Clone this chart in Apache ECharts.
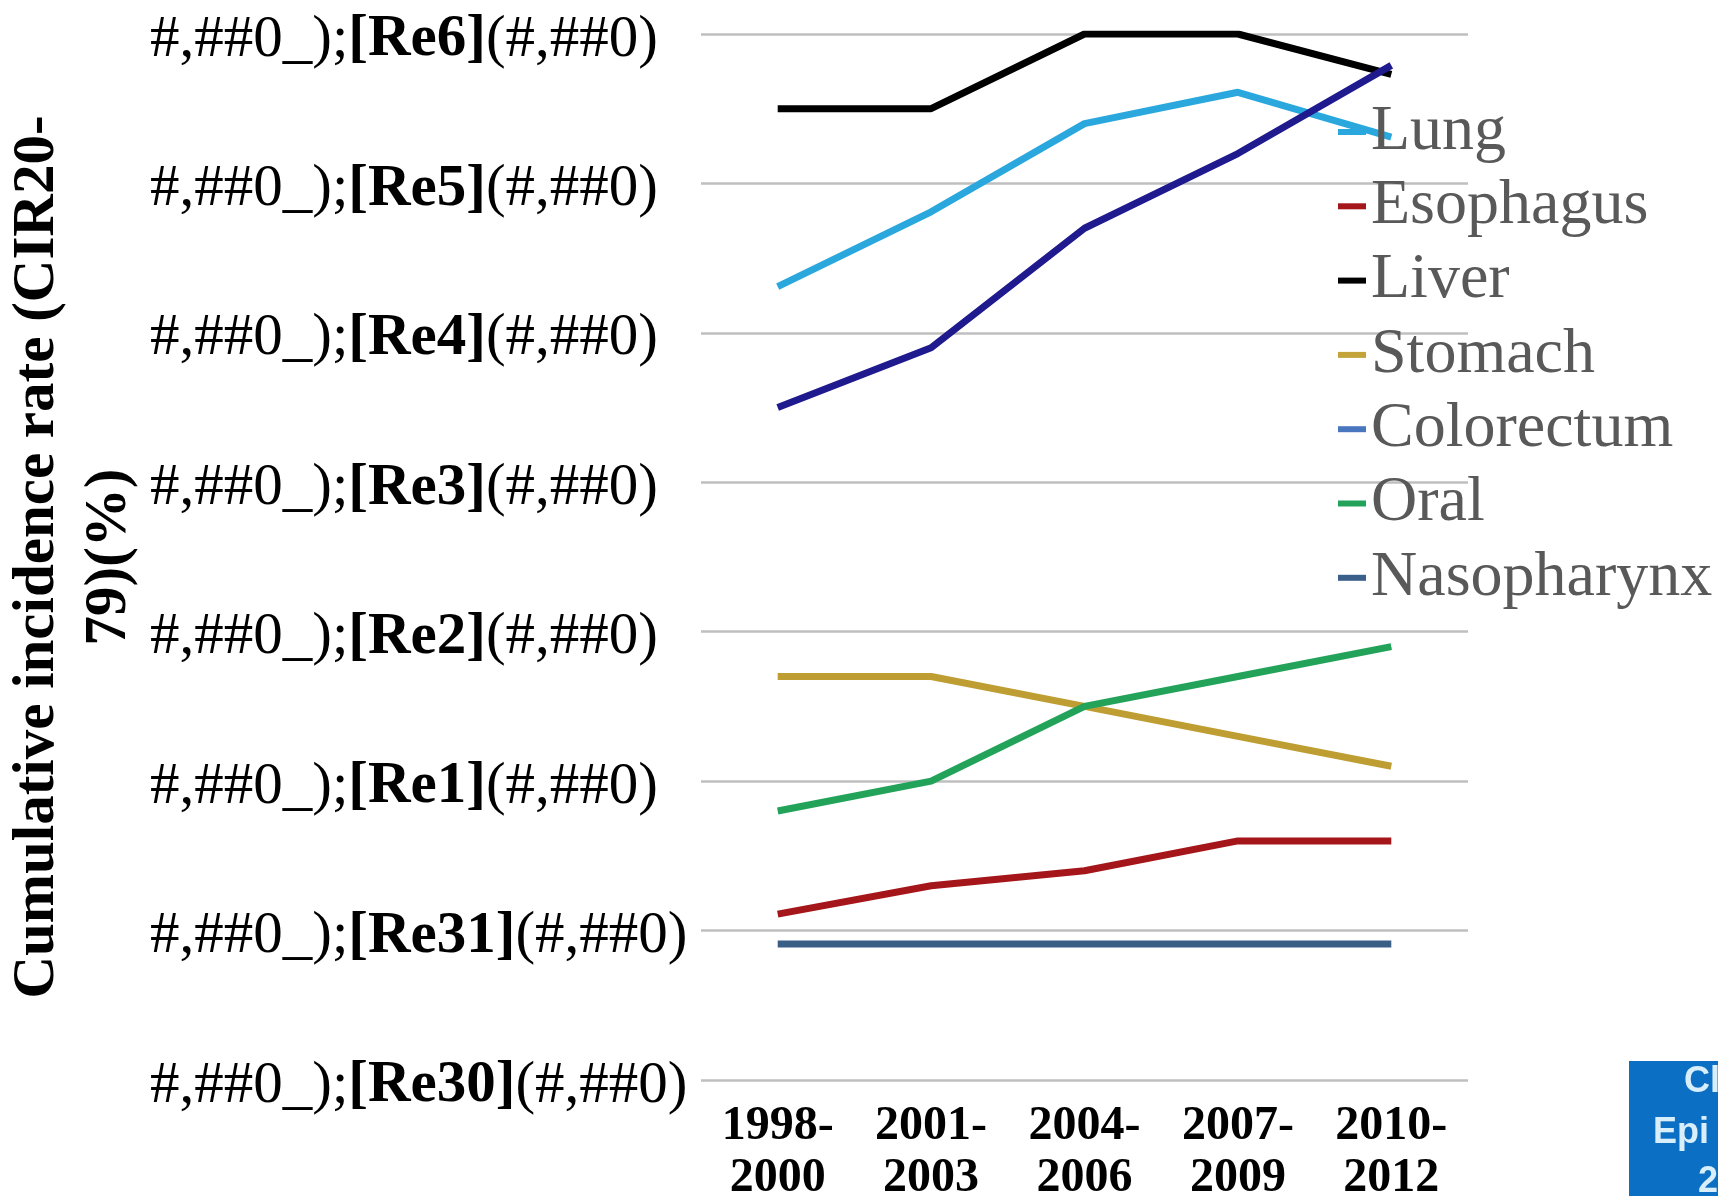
<!DOCTYPE html>
<html>
<head>
<meta charset="utf-8">
<script src="https://cdn.jsdelivr.net/npm/echarts@6/dist/echarts.min.js"></script>
<style>
html,body{margin:0;padding:0;background:#fff;}
#chart{width:1718px;height:1196px;}
</style>
</head>
<body>
<div id="chart"></div>
<script>
const categories = ['1998-\n2000', '2001-\n2003', '2004-\n2006', '2007-\n2009', '2010-\n2012'];
const tickNames = ['Re30', 'Re31', 'Re1', 'Re2', 'Re3', 'Re4', 'Re5', 'Re6'];
const lung = [5.31, 5.81, 6.40, 6.61, 6.31];
const esophagus = [1.11, 1.30, 1.40, 1.60, 1.60];
const liver = [6.50, 6.50, 7.00, 7.00, 6.73];
const stomach = [2.70, 2.70, 2.50, 2.30, 2.10];
const colorectum = [4.50, 4.90, 5.70, 6.20, 6.79];
const oral = [1.80, 2.00, 2.50, 2.70, 2.90];
const nasopharynx = [0.91, 0.91, 0.91, 0.91, 0.91];
const seriesNames = ['Lung', 'Esophagus', 'Liver', 'Stomach', 'Colorectum', 'Oral', 'Nasopharynx'];
const yAxisTitle = 'Cumulative incidence rate (CIR20-\n79)(%)';

const lineColors = ['#2AA8DE', '#A5161A', '#000000', '#BE9E32', '#1F1A8E', '#23A35A', '#3A5F86'];
const swatchColors = ['#2AA8DE', '#A5161A', '#000000', '#C4A43A', '#4A76C0', '#23A35A', '#3A5F8A'];
const dataSets = [lung, esophagus, liver, stomach, colorectum, oral, nasopharynx];

const serif = 'Liberation Serif, Times New Roman, serif';
const chart = echarts.init(document.getElementById('chart'));
chart.setOption({
  backgroundColor: '#ffffff',
  animation: false,
  grid: {left: 701, right: 250, top: 34, bottom: 116, containLabel: false, outerBoundsMode: 'none'},
  xAxis: {
    type: 'category',
    data: categories,
    boundaryGap: true,
    axisLine: {show: false},
    axisTick: {show: false},
    axisLabel: {
      fontFamily: serif, fontWeight: 'bold', fontSize: 48, color: '#000',
      lineHeight: 52, margin: 21, interval: 0
    }
  },
  yAxis: {
    type: 'value',
    min: 0, max: 7, interval: 1,
    axisLine: {show: false},
    axisTick: {show: false},
    splitLine: {lineStyle: {color: '#BFBFBF', width: 2.5}},
    axisLabel: {
      margin: 551,
      align: 'left',
      padding: [12, 0, 0, 0],
      formatter: function (v) {
        const n = tickNames[Math.round(v)];
        return '{a|#,##0_);}{b|[' + n + ']}{a|(#,##0)}';
      },
      rich: {
        a: {fontFamily: serif, fontSize: 59, color: '#000', fontWeight: 'normal'},
        b: {fontFamily: serif, fontSize: 59, color: '#000', fontWeight: 'bold'}
      }
    },
    name: yAxisTitle,
    nameLocation: 'middle',
    nameGap: 528,
    nameRotate: 90,
    nameTextStyle: {
      fontFamily: serif, fontWeight: 'bold', fontSize: 59, color: '#000', lineHeight: 72, align: 'center'
    }
  },
  legend: {
    orient: 'vertical',
    left: 1333, top: 95,
    icon: 'rect',
    itemWidth: 28, itemHeight: 6,
    itemGap: 10.3,
    textStyle: {fontFamily: serif, fontSize: 64, color: '#595959', lineHeight: 60, padding: [0, 0, 0, 0]},
    data: seriesNames.map((n, i) => ({name: n, itemStyle: {color: swatchColors[i]}}))
  },
  series: seriesNames.map((n, i) => ({
    name: n,
    type: 'line',
    data: dataSets[i],
    symbol: 'none',
    color: lineColors[i],
    lineStyle: {width: 7, color: lineColors[i]}
  })),
  graphic: [
    {type: 'rect', left: 1629, top: 1061, shape: {width: 89, height: 135}, style: {fill: '#0B6FC4'}},
    {type: 'text', left: 1684, top: 1064, style: {text: 'Cl', fill: '#D8EEFA', font: 'bold 36px Liberation Sans'}},
    {type: 'text', left: 1653, top: 1115, style: {text: 'Epi', fill: '#D8EEFA', font: 'bold 36px Liberation Sans'}},
    {type: 'text', left: 1698, top: 1164, style: {text: '2', fill: '#D8EEFA', font: 'bold 36px Liberation Sans'}}
  ]
});
</script>
</body>
</html>
